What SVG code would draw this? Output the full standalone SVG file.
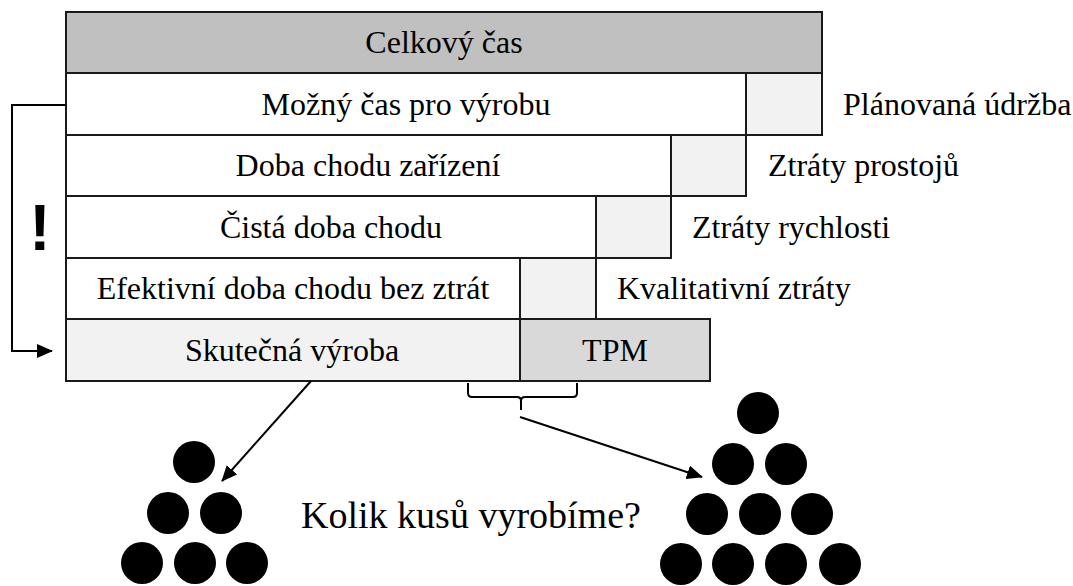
<svg xmlns="http://www.w3.org/2000/svg" width="1073" height="586" viewBox="0 0 1073 586">
<style>
.box{stroke:#1a1a1a;stroke-width:2}
.t{font-family:'Liberation Serif','Times New Roman',Times,'DejaVu Serif',serif;font-size:32px;fill:#000}
.c{text-anchor:middle}
.ln{fill:none;stroke:#000;stroke-width:2}
.dot{fill:#000}
</style>
<defs>
<marker id="ah" markerWidth="16" markerHeight="14" refX="15" refY="7" orient="auto" markerUnits="userSpaceOnUse">
<path d="M0,0 L16,7 L0,14 Z" fill="#000"/>
</marker>
</defs>
<rect width="1073" height="586" fill="#fff"/>
<g id="celkovy">
<rect class="box" x="66" y="12" width="756" height="61" fill="#c0c0c0"/>
<text class="t c" x="444" y="53" font-family="Liberation Serif, serif">Celkový čas</text>
</g>
<g id="mozny">
<rect class="box" x="66" y="73" width="680" height="62" fill="#fff"/>
<rect class="box" x="746" y="73" width="76" height="62" fill="#f2f2f2"/>
<text class="t c" x="406" y="115">Možný čas pro výrobu</text>
<text class="t" x="843" y="115">Plánovaná údržba</text>
</g>
<g id="doba">
<rect class="box" x="66" y="135" width="605" height="61" fill="#fff"/>
<rect class="box" x="671" y="135" width="75" height="61" fill="#f2f2f2"/>
<text class="t c" x="368" y="176">Doba chodu zařízení</text>
<text class="t" x="768" y="176">Ztráty prostojů</text>
</g>
<g id="cista">
<rect class="box" x="66" y="196" width="530" height="62" fill="#fff"/>
<rect class="box" x="596" y="196" width="75" height="62" fill="#f2f2f2"/>
<text class="t c" x="331" y="238">Čistá doba chodu</text>
<text class="t" x="692" y="238">Ztráty rychlosti</text>
</g>
<g id="efektivni">
<rect class="box" x="66" y="258" width="454" height="61" fill="#fff"/>
<rect class="box" x="520" y="258" width="76" height="61" fill="#f2f2f2"/>
<text class="t c" x="293" y="299">Efektivní doba chodu bez ztrát</text>
<text class="t" x="617" y="299">Kvalitativní ztráty</text>
</g>
<g id="skutecna">
<rect class="box" x="66" y="319" width="454" height="62" fill="#f2f2f2"/>
<text class="t c" x="292" y="361">Skutečná výroba</text>
</g>
<g id="tpm">
<rect class="box" x="520" y="319" width="190" height="62" fill="#d9d9d9"/>
<text class="t c" x="615" y="361">TPM</text>
</g>
<g id="exclaim">
<text x="40" y="250" text-anchor="middle" font-family="Liberation Sans, Arial, sans-serif" font-weight="bold" font-size="64">!</text>
</g>
<g id="connectors">
<path class="ln" d="M66,105 H12 V351 H52" marker-end="url(#ah)"/>
<path class="ln" d="M311,381 L222,481" marker-end="url(#ah)"/>
<path class="ln" d="M468,383 V393 Q468,397 472,397 H517 Q521,397 521,401 V410 M521,401 Q521,397 525,397 H573 Q577,397 577,393 V383"/>
<path class="ln" d="M520,417 L702,477" marker-end="url(#ah)"/>
</g>
<g id="pile-left">
<circle class="dot" cx="194" cy="462" r="21"/>
<circle class="dot" cx="168" cy="513" r="21"/>
<circle class="dot" cx="221" cy="513" r="21"/>
<circle class="dot" cx="142" cy="563" r="21"/>
<circle class="dot" cx="195" cy="563" r="21"/>
<circle class="dot" cx="247" cy="563" r="21"/>
</g>
<g id="pile-right">
<circle class="dot" cx="758" cy="413" r="21"/>
<circle class="dot" cx="733" cy="464" r="21"/>
<circle class="dot" cx="786" cy="464" r="21"/>
<circle class="dot" cx="707" cy="514" r="21"/>
<circle class="dot" cx="760" cy="514" r="21"/>
<circle class="dot" cx="812" cy="514" r="21"/>
<circle class="dot" cx="681" cy="564" r="21"/>
<circle class="dot" cx="733" cy="564" r="21"/>
<circle class="dot" cx="786" cy="564" r="21"/>
<circle class="dot" cx="840" cy="564" r="21"/>
</g>
<g id="question">
<text class="t c" x="471" y="528" font-size="38" style="font-size:38px">Kolik kusů vyrobíme?</text>
</g>
</svg>
